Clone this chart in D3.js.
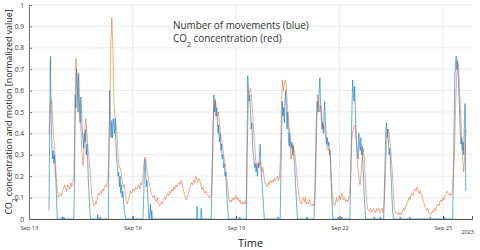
<!DOCTYPE html>
<html>
<head>
<meta charset="utf-8">
<script src="https://cdn.jsdelivr.net/npm/d3@7"></script>
<style>
  html, body { margin: 0; padding: 0; background: #fff; }
  text { font-family: "Open Sans", "Noto Sans", sans-serif; }
</style>
</head>
<body>
<svg id="chart" width="480" height="250"></svg>
<script>
// time is in days since Sep 13 2023 00:00
var xTickDays = [0, 3, 6, 9, 12];
var xTickLabels = ["Sep 13", "Sep 16", "Sep 19", "Sep 22", "Sep 25"];
var yTicks = [0, 0.1, 0.2, 0.3, 0.4, 0.5, 0.6, 0.7, 0.8, 0.9, 1];
var yearLabel = "2023";

// number of movements (blue)
var movementSeries = [
  [0.58,0.04],[0.60,0.45],[0.62,0.76],[0.64,0.50],[0.66,0.35],[0.68,0.28],[0.70,0.32],[0.72,0.26],
  [0.74,0.30],[0.76,0.22],[0.78,0.18],[0.80,0.08],[0.82,0],
  [0.95,0],[0.96,0.01],[0.98,0],[1.00,0],[1.01,0.01],[1.03,0],
  [1.30,0],[1.32,0.20],[1.34,0.58],[1.36,0.52],[1.38,0.70],[1.40,0.62],[1.42,0.50],[1.44,0.68],
  [1.46,0.55],[1.48,0.45],[1.50,0.57],[1.52,0.52],[1.54,0.42],[1.56,0.38],[1.58,0.33],[1.60,0.40],
  [1.62,0.36],[1.64,0.42],[1.66,0.30],[1.68,0.35],[1.70,0.28],[1.72,0.18],[1.74,0.12],[1.76,0.05],[1.78,0],
  [1.98,0],[1.99,0.02],[2.01,0],[2.05,0],[2.06,0.01],[2.08,0],
  [2.30,0],[2.32,0.35],[2.34,0.60],[2.36,0.45],[2.38,0.38],[2.40,0.46],[2.42,0.38],[2.44,0.47],
  [2.46,0.44],[2.48,0.40],[2.50,0.47],[2.52,0.35],[2.54,0.28],[2.56,0.25],[2.58,0.20],[2.60,0.22],
  [2.62,0.15],[2.64,0.20],[2.66,0.12],[2.68,0.16],[2.70,0.10],[2.72,0.13],[2.74,0.08],[2.76,0.05],
  [2.78,0.02],[2.80,0],
  [3.00,0],[3.01,0.01],[3.03,0],
  [3.30,0],[3.32,0.08],[3.34,0.20],[3.36,0.28],[3.38,0.22],[3.40,0.15],[3.42,0.18],[3.44,0.12],
  [3.46,0.06],[3.48,0],[3.50,0.02],[3.52,0.07],[3.54,0],[3.56,0.04],[3.58,0],
  [4.86,0],[4.87,0.06],[4.89,0],[4.98,0],[4.99,0.05],[5.01,0],
  [5.28,0],[5.31,0.20],[5.34,0.45],[5.36,0.58],[5.38,0.50],[5.40,0.55],[5.42,0.48],[5.44,0.52],
  [5.46,0.45],[5.48,0.40],[5.50,0.44],[5.52,0.36],[5.54,0.40],[5.56,0.32],[5.58,0.35],[5.60,0.28],
  [5.62,0.30],[5.64,0.24],[5.66,0.26],[5.68,0.20],[5.70,0.22],[5.72,0.15],[5.74,0.10],[5.76,0.05],[5.78,0],
  [6.10,0],[6.11,0.01],[6.13,0],
  [6.30,0],[6.32,0.35],[6.34,0.67],[6.36,0.60],[6.38,0.55],[6.40,0.58],[6.42,0.50],[6.44,0.42],
  [6.46,0.45],[6.48,0.35],[6.50,0.30],[6.52,0.28],[6.54,0.24],[6.56,0.26],[6.58,0.22],[6.60,0.25],
  [6.62,0.20],[6.64,0.26],[6.66,0.24],[6.68,0.30],[6.70,0.35],[6.72,0.25],[6.74,0.20],[6.76,0.15],
  [6.78,0.10],[6.80,0.05],[6.82,0],
  [7.21,0],[7.22,0.01],[7.24,0],
  [7.28,0],[7.31,0.30],[7.34,0.55],[7.36,0.48],[7.38,0.52],[7.40,0.45],[7.42,0.55],[7.44,0.60],
  [7.46,0.50],[7.48,0.42],[7.50,0.50],[7.52,0.38],[7.54,0.34],[7.56,0.40],[7.58,0.35],[7.60,0.33],
  [7.62,0.36],[7.64,0.30],[7.66,0.34],[7.68,0.28],[7.70,0.25],[7.72,0.18],[7.74,0.12],[7.76,0.06],[7.78,0],
  [8.05,0],[8.06,0.01],[8.08,0],
  [8.26,0],[8.29,0.15],[8.32,0.40],[8.35,0.55],[8.38,0.50],[8.41,0.60],[8.43,0.66],[8.45,0.55],
  [8.47,0.48],[8.49,0.42],[8.51,0.45],[8.53,0.40],[8.55,0.48],[8.57,0.55],[8.59,0.45],[8.61,0.40],
  [8.63,0.35],[8.65,0.38],[8.67,0.34],[8.69,0.36],[8.71,0.30],[8.73,0.32],[8.75,0.22],[8.77,0.12],
  [8.79,0.05],[8.81,0],
  [8.95,0],[8.96,0.01],[8.98,0],[9.05,0],[9.06,0.01],[9.08,0],
  [9.30,0],[9.33,0.25],[9.36,0.50],[9.38,0.65],[9.40,0.60],[9.42,0.55],[9.44,0.62],[9.46,0.50],
  [9.48,0.40],[9.50,0.35],[9.52,0.30],[9.54,0.28],[9.56,0.40],[9.58,0.35],[9.60,0.32],[9.62,0.38],
  [9.64,0.30],[9.66,0.34],[9.68,0.25],[9.70,0.18],[9.72,0.10],[9.74,0.04],[9.76,0],
  [10.00,0],[10.01,0.01],[10.03,0],[10.17,0],[10.18,0.01],[10.20,0],
  [10.28,0],[10.31,0.20],[10.34,0.40],[10.36,0.45],[10.38,0.38],[10.40,0.42],[10.42,0.35],[10.44,0.30],
  [10.46,0.33],[10.48,0.25],[10.50,0.18],[10.52,0.10],[10.54,0.04],[10.56,0],
  [10.75,0],[10.76,0.01],[10.78,0],[11.03,0],[11.04,0.01],[11.06,0],
  [11.62,0],[11.63,0.01],[11.65,0],[12.02,0],[12.03,0.01],[12.05,0],
  [12.28,0],[12.31,0.30],[12.34,0.65],[12.36,0.72],[12.38,0.76],[12.40,0.70],[12.42,0.74],[12.44,0.68],
  [12.46,0.60],[12.48,0.50],[12.50,0.40],[12.52,0.35],[12.54,0.38],[12.56,0.32],[12.58,0.36],[12.60,0.30],
  [12.62,0.45],[12.64,0.54],[12.66,0.13]
];

// CO2 concentration (red)
var co2Series = [
  [0.58,0.40],[0.61,0.50],[0.63,0.55],[0.65,0.56],[0.67,0.52],[0.70,0.42],[0.73,0.35],[0.76,0.28],
  [0.79,0.20],[0.82,0.14],[0.85,0.10],[0.88,0.11],[0.91,0.12],[0.94,0.11],[0.97,0.13],[1.00,0.14],
  [1.03,0.16],[1.06,0.15],[1.09,0.13],[1.12,0.16],[1.15,0.15],[1.18,0.14],[1.21,0.17],[1.24,0.15],
  [1.27,0.17],[1.30,0.20],[1.33,0.45],[1.36,0.75],[1.39,0.66],[1.42,0.58],[1.45,0.55],[1.48,0.50],
  [1.51,0.40],[1.54,0.30],[1.57,0.25],[1.60,0.33],[1.63,0.45],[1.65,0.47],[1.68,0.40],[1.71,0.33],
  [1.74,0.28],[1.77,0.22],[1.80,0.16],[1.83,0.10],[1.86,0.07],[1.89,0.06],[1.92,0.08],[1.95,0.07],
  [1.98,0.10],[2.01,0.12],[2.04,0.11],[2.07,0.13],[2.10,0.12],[2.13,0.14],[2.16,0.13],[2.19,0.15],
  [2.22,0.16],[2.25,0.15],[2.28,0.18],[2.31,0.25],[2.34,0.50],[2.37,0.80],[2.40,0.94],[2.43,0.80],
  [2.46,0.55],[2.49,0.48],[2.52,0.45],[2.55,0.40],[2.58,0.30],[2.61,0.24],[2.64,0.24],[2.67,0.22],
  [2.70,0.18],[2.73,0.15],[2.76,0.16],[2.79,0.12],[2.82,0.08],[2.85,0.07],[2.88,0.09],[2.91,0.11],
  [2.94,0.13],[2.97,0.12],[3.00,0.13],[3.03,0.14],[3.06,0.13],[3.09,0.15],[3.12,0.14],[3.15,0.15],
  [3.18,0.16],[3.21,0.14],[3.24,0.17],[3.27,0.16],[3.30,0.19],[3.33,0.26],[3.36,0.29],[3.39,0.28],
  [3.42,0.22],[3.45,0.20],[3.48,0.17],[3.51,0.15],[3.54,0.12],[3.57,0.11],[3.60,0.10],[3.63,0.11],
  [3.66,0.09],[3.69,0.08],[3.72,0.10],[3.75,0.07],[3.78,0.06],[3.81,0.07],[3.84,0.08],[3.87,0.07],
  [3.90,0.09],[3.93,0.10],[3.96,0.09],[3.99,0.11],[4.02,0.12],[4.05,0.11],[4.08,0.13],[4.11,0.12],
  [4.14,0.14],[4.17,0.13],[4.20,0.15],[4.23,0.14],[4.26,0.16],[4.29,0.15],[4.32,0.16],[4.35,0.17],
  [4.38,0.16],[4.41,0.18],[4.44,0.16],[4.47,0.14],[4.50,0.12],[4.53,0.10],[4.56,0.09],[4.59,0.10],
  [4.62,0.12],[4.65,0.14],[4.68,0.15],[4.71,0.17],[4.74,0.16],[4.77,0.18],[4.80,0.17],[4.83,0.20],
  [4.86,0.19],[4.89,0.17],[4.92,0.19],[4.95,0.18],[4.98,0.16],[5.01,0.14],[5.04,0.15],[5.07,0.13],
  [5.10,0.12],[5.13,0.13],[5.16,0.12],[5.19,0.11],[5.22,0.10],[5.25,0.10],[5.28,0.12],[5.31,0.25],
  [5.34,0.45],[5.37,0.53],[5.40,0.56],[5.43,0.52],[5.46,0.48],[5.49,0.50],[5.52,0.45],[5.55,0.40],
  [5.58,0.38],[5.61,0.34],[5.64,0.30],[5.67,0.27],[5.70,0.24],[5.73,0.20],[5.76,0.15],[5.79,0.10],
  [5.82,0.08],[5.85,0.09],[5.88,0.08],[5.91,0.10],[5.94,0.09],[5.97,0.10],[6.00,0.11],[6.03,0.09],
  [6.06,0.10],[6.09,0.08],[6.12,0.09],[6.15,0.07],[6.18,0.08],[6.21,0.07],[6.24,0.08],[6.27,0.07],
  [6.30,0.10],[6.33,0.35],[6.36,0.55],[6.39,0.60],[6.42,0.61],[6.45,0.57],[6.48,0.50],[6.51,0.42],
  [6.54,0.35],[6.57,0.28],[6.60,0.25],[6.63,0.26],[6.66,0.24],[6.69,0.27],[6.72,0.25],[6.75,0.22],
  [6.78,0.24],[6.81,0.20],[6.84,0.17],[6.87,0.16],[6.90,0.15],[6.93,0.17],[6.96,0.16],[6.99,0.18],
  [7.02,0.17],[7.05,0.18],[7.08,0.17],[7.11,0.19],[7.14,0.18],[7.17,0.19],[7.20,0.20],[7.23,0.18],
  [7.26,0.19],[7.29,0.30],[7.32,0.55],[7.35,0.65],[7.38,0.60],[7.41,0.64],[7.44,0.65],[7.47,0.58],
  [7.50,0.50],[7.53,0.45],[7.56,0.38],[7.59,0.28],[7.62,0.30],[7.65,0.35],[7.68,0.32],[7.71,0.30],
  [7.74,0.25],[7.77,0.19],[7.80,0.14],[7.83,0.11],[7.86,0.08],[7.89,0.07],[7.92,0.09],[7.95,0.10],
  [7.98,0.08],[8.01,0.10],[8.04,0.07],[8.07,0.08],[8.10,0.07],[8.13,0.09],[8.16,0.07],[8.19,0.06],
  [8.22,0.07],[8.25,0.06],[8.28,0.08],[8.31,0.20],[8.34,0.45],[8.37,0.58],[8.40,0.55],[8.43,0.50],
  [8.46,0.53],[8.49,0.48],[8.52,0.42],[8.55,0.44],[8.58,0.40],[8.61,0.36],[8.64,0.33],[8.67,0.32],
  [8.70,0.33],[8.73,0.28],[8.76,0.19],[8.79,0.12],[8.82,0.08],[8.85,0.06],[8.88,0.07],[8.91,0.10],
  [8.94,0.08],[8.97,0.09],[9.00,0.11],[9.03,0.09],[9.06,0.12],[9.09,0.11],[9.12,0.09],[9.15,0.10],
  [9.18,0.08],[9.21,0.09],[9.24,0.08],[9.27,0.10],[9.30,0.12],[9.33,0.25],[9.36,0.38],[9.39,0.41],
  [9.42,0.43],[9.45,0.44],[9.48,0.38],[9.51,0.28],[9.54,0.22],[9.57,0.18],[9.60,0.16],[9.63,0.22],
  [9.66,0.30],[9.69,0.33],[9.72,0.28],[9.75,0.18],[9.78,0.10],[9.81,0.05],[9.84,0.04],[9.87,0.04],
  [9.90,0.05],[9.93,0.03],[9.96,0.04],[9.99,0.05],[10.02,0.04],[10.05,0.03],[10.08,0.05],[10.11,0.04],
  [10.14,0.05],[10.17,0.03],[10.20,0.04],[10.23,0.05],[10.26,0.03],[10.29,0.06],[10.32,0.15],[10.35,0.30],
  [10.38,0.40],[10.41,0.42],[10.44,0.40],[10.47,0.35],[10.50,0.28],[10.53,0.22],[10.56,0.12],[10.59,0.05],
  [10.62,0.03],[10.65,0.03],[10.68,0.02],[10.71,0.03],[10.74,0.02],[10.77,0.03],[10.80,0.02],[10.83,0.04],
  [10.86,0.05],[10.89,0.04],[10.92,0.06],[10.95,0.07],[10.98,0.08],[11.01,0.10],[11.04,0.09],[11.07,0.11],
  [11.10,0.12],[11.13,0.11],[11.16,0.13],[11.19,0.14],[11.22,0.13],[11.25,0.15],[11.28,0.14],[11.31,0.12],
  [11.34,0.13],[11.37,0.11],[11.40,0.10],[11.43,0.08],[11.46,0.07],[11.49,0.05],[11.52,0.04],[11.55,0.05],
  [11.58,0.03],[11.61,0.03],[11.64,0.02],[11.67,0.03],[11.70,0.04],[11.73,0.03],[11.76,0.05],[11.79,0.04],
  [11.82,0.06],[11.85,0.07],[11.88,0.06],[11.91,0.08],[11.94,0.09],[11.97,0.08],[12.00,0.10],[12.03,0.09],
  [12.06,0.11],[12.09,0.12],[12.12,0.13],[12.15,0.12],[12.18,0.11],[12.21,0.12],[12.24,0.11],[12.27,0.13],
  [12.30,0.20],[12.33,0.30],[12.36,0.50],[12.39,0.65],[12.42,0.73],[12.45,0.72],[12.48,0.60],[12.51,0.50],
  [12.54,0.38],[12.57,0.28],[12.60,0.22],[12.63,0.30],[12.66,0.40],[12.69,0.42]
];

var svg = d3.select("#chart");
var margin = {left: 29, right: 8, top: 5, bottom: 31};
var width = 480, height = 250;

var x = d3.scaleLinear()
  .domain([0, 12.84])
  .range([margin.left, width - margin.right]);
var y = d3.scaleLinear()
  .domain([0, 1])
  .range([height - margin.bottom, margin.top]);

// grid
var grid = svg.append("g").attr("class", "grid");
grid.selectAll("line.h").data(yTicks).enter().append("line")
  .attr("x1", x.range()[0]).attr("x2", x.range()[1])
  .attr("y1", function(d){ return y(d); })
  .attr("y2", function(d){ return y(d); })
  .style("stroke", "#ebebeb").style("stroke-width", 1);
grid.selectAll("line.v").data(xTickDays).enter().append("line")
  .attr("y1", y(0)).attr("y2", y(1))
  .attr("x1", function(d){ return x(d); })
  .attr("x2", function(d){ return x(d); })
  .style("stroke", "#ebebeb").style("stroke-width", 1);

// lines
var line = d3.line()
  .x(function(d){ return x(d[0]); })
  .y(function(d){ return y(d[1]); });

svg.append("path").datum(movementSeries)
  .attr("d", line)
  .style("fill", "none")
  .style("stroke", "#0072BD")
  .style("stroke-opacity", 0.72)
  .style("stroke-width", 0.8);

svg.append("path").datum(co2Series)
  .attr("d", line)
  .style("fill", "none")
  .style("stroke", "#D95319")
  .style("stroke-opacity", 0.6)
  .style("stroke-width", 0.8);

// axes
var xAxis = svg.append("g")
  .attr("transform", "translate(0," + y(0) + ")")
  .call(d3.axisBottom(x)
    .tickValues(xTickDays)
    .tickSize(-3)
    .tickFormat(function(d, i){ return xTickLabels[i]; }));
xAxis.select(".domain").style("stroke", "#555").style("stroke-width", 1);
xAxis.selectAll(".tick line").style("stroke", "#555");
xAxis.selectAll(".tick text")
  .attr("y", 7)
  .style("font-size", "5.6px")
  .style("fill", "#333");

var yAxis = svg.append("g")
  .attr("transform", "translate(" + x(0) + ",0)")
  .call(d3.axisLeft(y)
    .tickValues(yTicks)
    .tickSize(-3)
    .tickFormat(function(d){ return d === 0 ? "0" : d === 1 ? "1" : d3.format(".1f")(d); }));
yAxis.select(".domain").style("stroke", "#777").style("stroke-width", 1);
yAxis.selectAll(".tick line").style("stroke", "#777");
yAxis.selectAll(".tick text")
  .attr("x", -5)
  .style("font-size", "6.6px")
  .style("fill", "#333");

svg.append("text")
  .attr("x", width - 6).attr("y", 233.5)
  .attr("text-anchor", "end")
  .style("font-size", "5.6px")
  .style("fill", "#333")
  .text(yearLabel);

// axis titles
svg.append("text")
  .attr("x", 250.5).attr("y", 247)
  .attr("text-anchor", "middle")
  .style("font-size", "11px")
  .style("fill", "#222")
  .text("Time");

var yTitle = svg.append("text")
  .attr("transform", "translate(11.5," + ((y(0) + y(1)) / 2) + ") rotate(-90)")
  .attr("text-anchor", "middle")
  .style("font-size", "8.9px")
  .style("fill", "#222");
yTitle.append("tspan").text("CO");
yTitle.append("tspan").attr("baseline-shift", "sub").style("font-size", "6.2px").text("2");
yTitle.append("tspan").text(" concentration and motion [normalized value]");

// legend text
svg.append("text")
  .attr("x", 173).attr("y", 28.5)
  .style("font-size", "9.9px")
  .style("fill", "#333")
  .text("Number of movements (blue)");
var leg2 = svg.append("text")
  .attr("x", 173).attr("y", 41.5)
  .style("font-size", "9.9px")
  .style("fill", "#333");
leg2.append("tspan").text("CO");
leg2.append("tspan").attr("baseline-shift", "sub").style("font-size", "7px").text("2");
leg2.append("tspan").text(" concentration (red)");
</script>
</body>
</html>
